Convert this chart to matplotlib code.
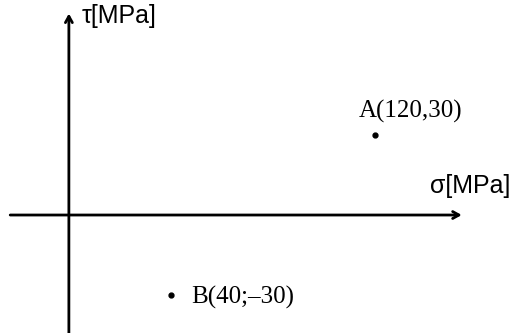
import matplotlib
matplotlib.use("Agg")
import matplotlib.pyplot as plt

# stress states [MPa]
names = ["A", "B"]
sigma = [120, 40]
tau = [30, -30]
labels = ["A(120,30)", "B(40;\u201330)"]

fig = plt.figure(figsize=(5.25, 3.33), dpi=100)
ax = fig.add_axes([0, 0, 1, 1])
ax.set_xlim(-27, 178.8)
ax.set_ylim(-44.5, 81.1)
ax.axis("off")

# axes with arrows
arr = dict(arrowstyle="->,head_length=0.45,head_width=0.25", lw=2, color="black",
           shrinkA=0, shrinkB=0)
ax.annotate("", xy=(154, 0), xytext=(-23, 0), arrowprops=arr)
ax.annotate("", xy=(0, 76), xytext=(0, -44.5), arrowprops=arr)

ax.text(5, 75, "\u03c4[MPa]", family="Liberation Sans", fontsize=18,
        ha="left", va="center")
ax.text(141.5, 11, "\u03c3[MPa]", family="Liberation Sans", fontsize=18,
        ha="left", va="center")

ax.plot(sigma, tau, "o", color="black", ms=3.5)
ax.text(134, 39, labels[0], family="Liberation Serif", fontsize=18,
        ha="center", va="center")
ax.text(48, -31, labels[1], family="Liberation Serif", fontsize=18,
        ha="left", va="center")

fig.savefig("out.png", dpi=100)
